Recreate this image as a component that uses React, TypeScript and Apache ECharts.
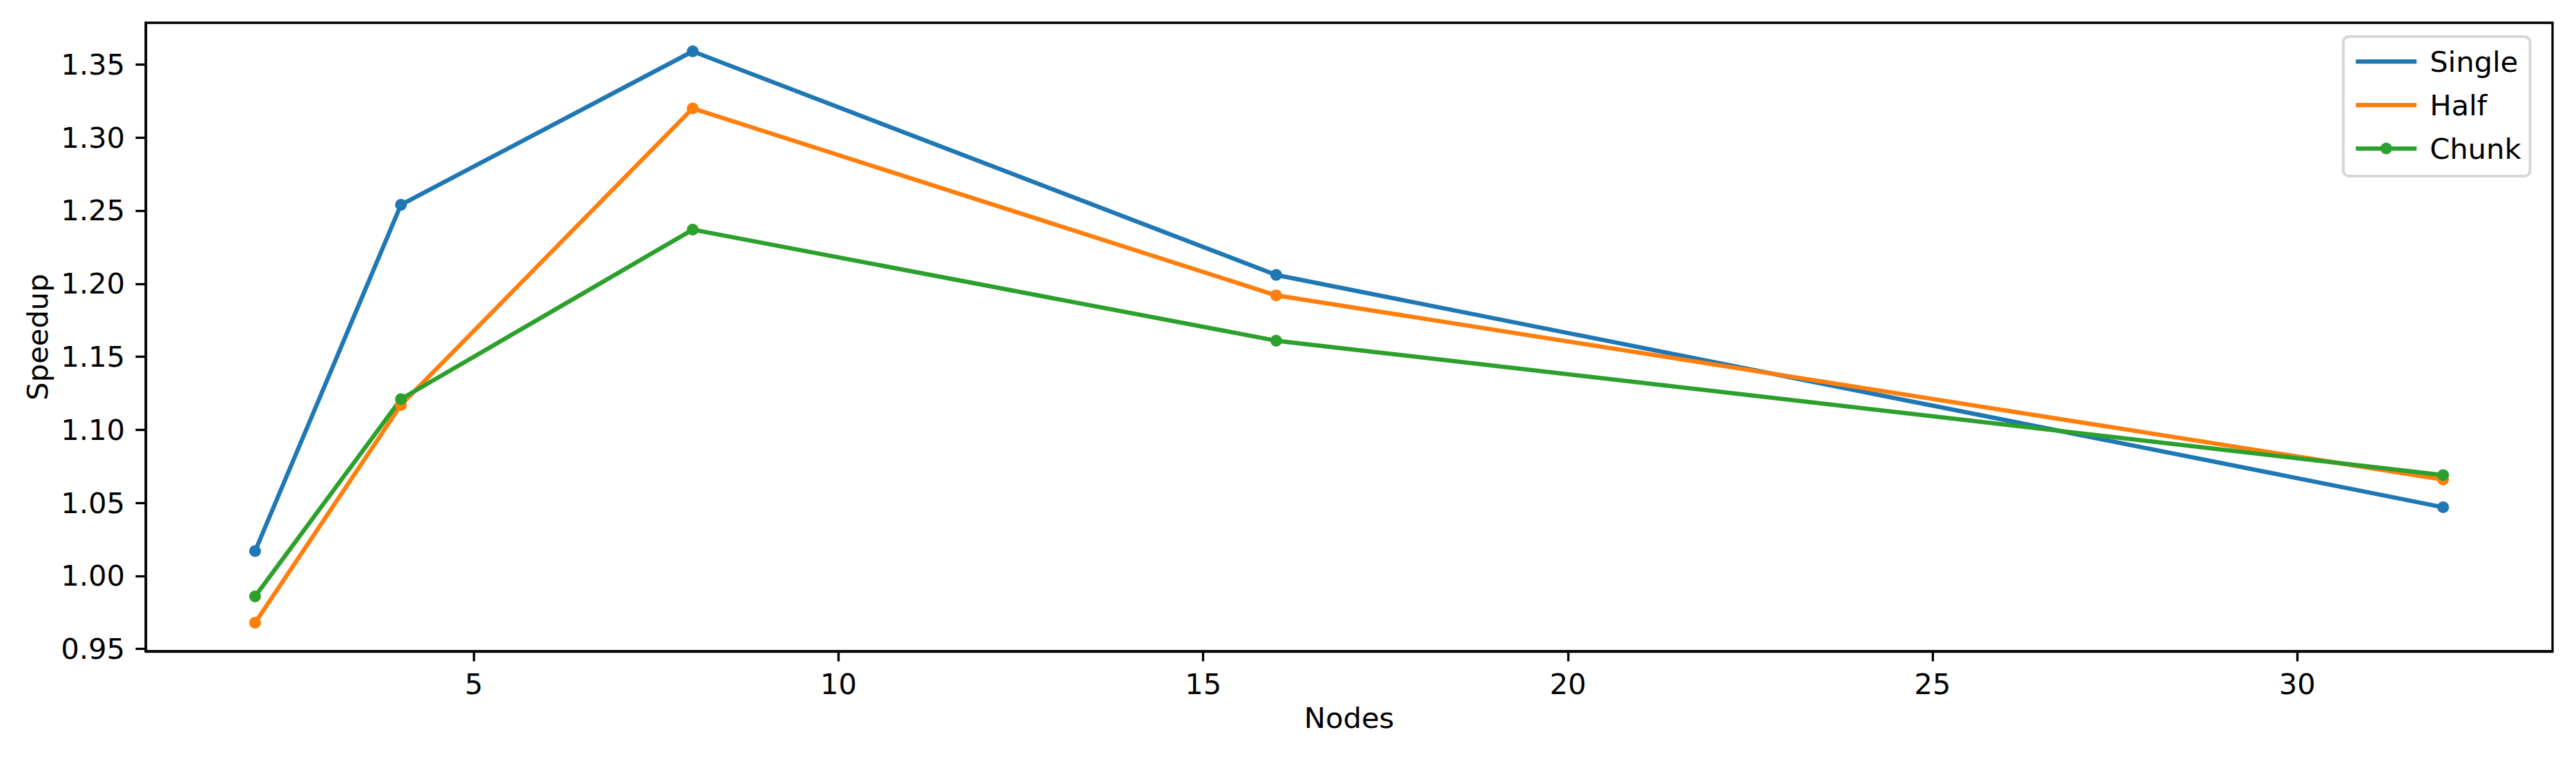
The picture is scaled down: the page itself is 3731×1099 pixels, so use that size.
import { useEffect, useRef } from "react";
import * as echarts from "echarts";

// ---- data ----
const nodes = [2, 4, 8, 16, 32];
const singleSpeedup = [1.017, 1.254, 1.359, 1.206, 1.047];
const halfSpeedup = [0.968, 1.117, 1.32, 1.192, 1.066];
const chunkSpeedup = [0.986, 1.121, 1.237, 1.161, 1.069];
const seriesNames = ["Single", "Half", "Chunk"];
const xTickValues = [5, 10, 15, 20, 25, 30];
const yTickValues = [0.95, 1.0, 1.05, 1.1, 1.15, 1.2, 1.25, 1.3, 1.35];
const xLabel = "Nodes";
const yLabel = "Speedup";

const colors = ["#1f77b4", "#ff7f0e", "#2ca02c"];
const FONT = "DejaVu Sans";
const FS = 41.67;
const LW = 6.25;

function paddedRange(vals: number[]) {
  const lo = Math.min(...vals);
  const hi = Math.max(...vals);
  const m = (hi - lo) * 0.05;
  return [lo - m, hi + m];
}

export default function App() {
  const ref = useRef<HTMLDivElement>(null);
  useEffect(() => {
    if (!ref.current) return;
    const chart = echarts.init(ref.current, undefined, { renderer: "svg" });
    const [xMin, xMax] = paddedRange(nodes);
    const [yMin, yMax] = paddedRange([...singleSpeedup, ...halfSpeedup, ...chunkSpeedup]);
    const all = [singleSpeedup, halfSpeedup, chunkSpeedup];
    const rectIcon = "path://M0,0L88,0L88,6.25L0,6.25Z";
    const option = {
      animation: false,
      backgroundColor: "#ffffff",
      textStyle: { fontFamily: FONT },
      grid: {
        left: 211,
        right: 34,
        top: 33,
        bottom: 156,
        show: true,
        borderColor: "#000",
        borderWidth: 3.33,
        backgroundColor: "transparent",
        containLabel: false,
        z: 3,
      },
      xAxis: {
        type: "value",
        min: xMin,
        max: xMax,
        name: xLabel,
        nameLocation: "middle",
        nameGap: 75,
        nameTextStyle: { fontSize: FS, color: "#000", fontFamily: FONT },
        axisLine: { show: true, onZero: false, lineStyle: { color: "#000", width: 3.33 } },
        axisTick: {
          show: true,
          customValues: xTickValues,
          length: 14.6,
          lineStyle: { color: "#000", width: 3.33 },
        },
        axisLabel: {
          customValues: xTickValues,
          margin: 26,
          fontSize: FS,
          color: "#000",
          fontFamily: FONT,
          formatter: (v: number) => String(v),
        },
        splitLine: { show: false },
      },
      yAxis: {
        type: "value",
        min: yMin,
        max: yMax,
        name: yLabel,
        nameLocation: "middle",
        nameGap: 136,
        nameTextStyle: { fontSize: FS, color: "#000", fontFamily: FONT },
        axisLine: { show: true, onZero: false, lineStyle: { color: "#000", width: 3.33 } },
        axisTick: {
          show: true,
          customValues: yTickValues,
          length: 14.6,
          lineStyle: { color: "#000", width: 3.33 },
        },
        axisLabel: {
          customValues: yTickValues,
          margin: 30,
          fontSize: FS,
          color: "#000",
          fontFamily: FONT,
          formatter: (v: number) => v.toFixed(2),
        },
        splitLine: { show: false },
      },
      legend: {
        orient: "vertical",
        left: 3394,
        top: 53,
        padding: [15, 13, 19, 15],
        itemWidth: 88,
        itemHeight: 21,
        itemGap: 21,
        backgroundColor: "#ffffff",
        borderColor: "#d6d6d6",
        borderWidth: 4,
        borderRadius: 8,
        selectedMode: false,
        textStyle: {
          fontSize: FS,
          color: "#000",
          fontFamily: FONT,
          lineHeight: 42,
          padding: [0, 0, 0, 14],
        },
        itemStyle: { borderWidth: 0 },
        lineStyle: { width: LW },
        data: [
          { name: seriesNames[0], icon: rectIcon },
          { name: seriesNames[1], icon: rectIcon },
          { name: seriesNames[2] },
        ],
      },
      series: seriesNames.map((name, si) => ({
        type: "line",
        name,
        data: nodes.map((x, i) => [x, all[si][i]]),
        symbol: "circle",
        symbolSize: 17,
        showSymbol: true,
        showAllSymbol: true,
        lineStyle: { width: LW, color: colors[si], join: "round" },
        itemStyle: { color: colors[si], borderWidth: 0 },
        emphasis: { disabled: true },
        z: 2,
      })),
    };
    chart.setOption(option as any);
    return () => chart.dispose();
  }, []);
  return (
    <div
      ref={ref}
      style={{ position: "fixed", left: 0, top: 0, width: 3731, height: 1099, background: "#fff" }}
    />
  );
}
